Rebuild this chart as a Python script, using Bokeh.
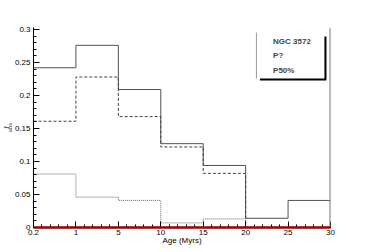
from bokeh.plotting import figure
from bokeh.models import (FixedTicker, CustomJSTickFormatter,
                          Range1d, Label, BoxAnnotation, Span, Title)
from bokeh.embed import file_html
from bokeh.resources import INLINE

# ---- data ----
edge_labels = ["0.2", "1", "5", "10", "15", "20", "25", "30"]
solid = [0.242, 0.276, 0.209, 0.127, 0.094, 0.014, 0.041]
dashed = [0.161, 0.228, 0.168, 0.122, 0.082, 0.0, 0.0]
dotted = [0.081, 0.046, 0.041, 0.007, 0.013, 0.0, 0.0]
red = [0.0, 0.0, 0.0, 0.0, 0.0, 0.0, 0.0]
y_ticks = [0, 0.05, 0.1, 0.15, 0.2, 0.25, 0.3]
legend_lines = ["NGC 3572", "P?", "P50%"]
x_title = "Age (Myrs)"
y_title = ("f", "abs")

FONT = "Liberation Sans"
n_edges = len(edge_labels)
xs = list(range(n_edges))

p = figure(frame_width=297, frame_height=200,
           x_range=Range1d(0, n_edges - 1), y_range=Range1d(0, 0.303),
           output_backend="svg", toolbar_location=None,
           min_border_left=33, min_border_right=30, min_border_top=27,
           min_border_bottom=18)
p.xgrid.visible = False
p.ygrid.visible = False
p.outline_line_color = None
p.background_fill_color = "white"
p.border_fill_color = "white"

x_minor = [i * 0.2 for i in range(5 * (n_edges - 1) + 1)]
p.xaxis.ticker = FixedTicker(ticks=xs, minor_ticks=x_minor)
p.xaxis.major_label_overrides = {i: lab for i, lab in enumerate(edge_labels)}
y_minor = [i * 0.01 for i in range(31)]
p.yaxis.ticker = FixedTicker(ticks=y_ticks, minor_ticks=y_minor)
p.yaxis.formatter = CustomJSTickFormatter(
    code="return tick.toFixed(2).replace(/0+$/, '').replace(/\\.$/, '');")

for ax in (p.xaxis[0], p.yaxis[0]):
    ax.major_tick_in = 6
    ax.major_tick_out = 0
    ax.minor_tick_in = 3
    ax.minor_tick_out = 0
    ax.axis_line_color = "black"
    ax.major_tick_line_color = "black"
    ax.minor_tick_line_color = "black"
    ax.major_label_text_font = FONT
    ax.major_label_text_font_size = "8px"
    ax.major_label_text_color = "black"
    ax.axis_label_text_font = FONT
    ax.axis_label_text_font_size = "8px"
    ax.axis_label_text_font_style = "normal"
    ax.axis_label_text_color = "black"

p.xaxis.major_label_standoff = 2
p.xaxis.axis_label = x_title
p.xaxis.axis_label_standoff = -2
p.yaxis.major_label_standoff = 3
p.yaxis.axis_label = None

# y title as two side titles: subscript nearest the axis, then "f"
p.add_layout(Title(text=y_title[1], text_font=FONT, text_font_size="6px",
                   text_font_style="normal", align="center", offset=-14,
                   standoff=-3), "left")
p.add_layout(Title(text=y_title[0], text_font=FONT, text_font_size="8px",
                   text_font_style="normal", align="center", offset=-2,
                   standoff=-8), "left")

# histograms
p.step(xs, solid + [solid[-1]], mode="after", line_color="#505050", line_width=1)
p.step(xs, dashed + [dashed[-1]], mode="after", line_color="#404040", line_width=1,
       line_dash="3 2")
p.step(xs, dotted + [dotted[-1]], mode="after", line_color="#666666", line_width=1,
       line_dash="1 1")
r = p.step(xs, red + [red[-1]], mode="after", line_color="#990000", line_width=2.5)
r.level = "overlay"

p.add_layout(Span(location=n_edges - 1, dimension="height", line_color="#777777",
                  line_width=2))

# legend pave
p.add_layout(BoxAnnotation(left=5.337, right=6.905, top=0.2894, bottom=0.2227,
                           fill_color="black", fill_alpha=1, line_color=None))
p.add_layout(BoxAnnotation(left=5.242, right=6.857, top=0.2955, bottom=0.2258,
                           fill_color="white", fill_alpha=1, line_color=None))
p.add_layout(BoxAnnotation(left=5.242, right=5.266, top=0.2955, bottom=0.2258,
                           fill_color="#999999", fill_alpha=1, line_color=None))
for i, t in enumerate(legend_lines):
    p.add_layout(Label(x=5.646, y=0.2818 - i * 0.0219, text=t, text_font=FONT,
                       text_font_size="8px", text_font_style="bold",
                       text_baseline="middle", text_align="left"))

open("out.html", "w").write(file_html(p, INLINE))
